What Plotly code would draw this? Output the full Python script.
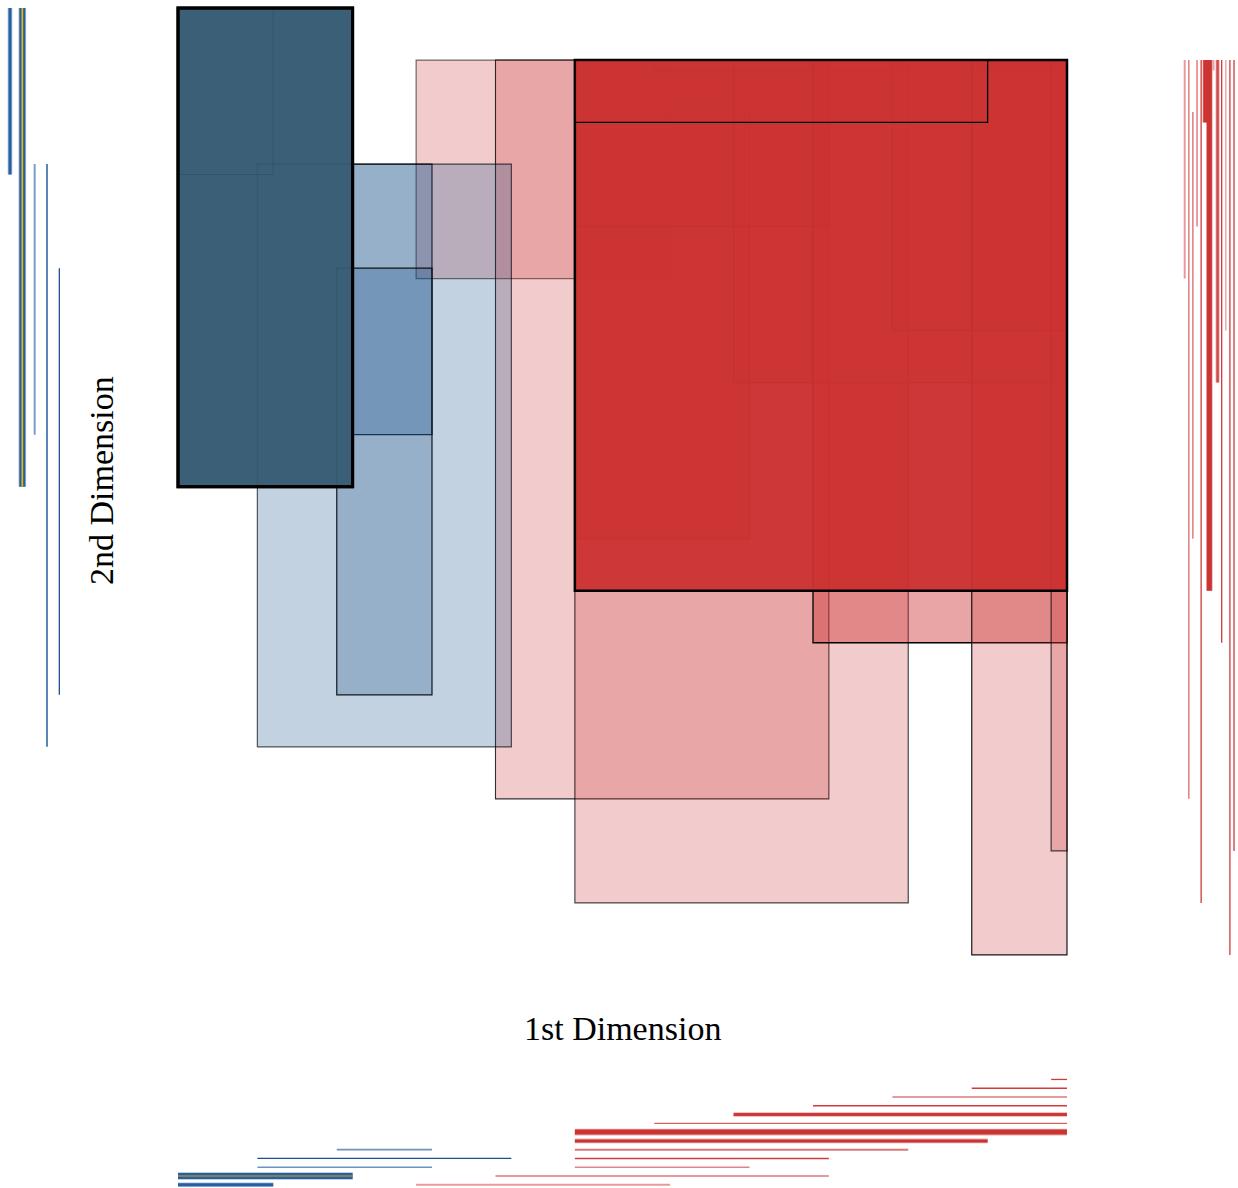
import plotly.graph_objects as go

# Item index ranges covered by each box along the two dimensions
BLUE_X_START = [0, 0, 1, 1, 2]
BLUE_X_END = [1, 2, 3, 4, 3]
BLUE_Y_START = [0, 0, 3, 3, 5]
BLUE_Y_END = [3, 9, 8, 14, 13]

RED_X_START = [3, 4, 5, 5, 5, 5, 5, 6, 7, 8, 9, 10, 11]
RED_X_END = [6, 8, 7, 8, 9, 10, 11, 11, 11, 11, 11, 11, 11]
RED_Y_START = [1, 1, 2, 1, 1, 1, 1, 1, 1, 1, 1, 1, 1]
RED_Y_END = [5, 15, 10, 4, 17, 2, 11, 1, 7, 12, 6, 18, 16]

X_TITLE = "1st Dimension"
Y_TITLE = "2nd Dimension"

# ---- styling ----
CELL = 0.2  # drawn width of a single item cell
W, H = 1238, 1188

BLUE_FILL = ["rgba(15,75,135,0.25)", "rgb(58,95,119)", "rgba(15,75,135,0.25)",
             "rgba(15,75,135,0.25)", "rgba(15,75,135,0.25)"]
BLUE_EDGE = [("rgba(30,50,60,0.6)", 1.2), ("black", 3.0), ("rgba(0,0,0,0.85)", 1.2),
             ("rgba(0,0,0,0.6)", 1.2), ("rgba(0,0,0,0.85)", 1.2)]
BLUE_ORDER = [0, 2, 3, 4, 1]
# boxes whose outlines stay faintly visible through the dark box
BLUE_GHOST = [0, 3, 4]
GHOST_EDGE = ("rgba(20,40,50,0.16)", 1.0)

RED_FILL = ["rgba(204,51,51,0.25)"] * 13
RED_FILL[9] = "rgba(204,51,51,0.44)"
RED_FILL[6] = "rgba(203,48,48,0.95)"
RED_EDGE = [("rgba(0,0,0,0.55)", 1.2), ("rgba(0,0,0,0.8)", 1.1), ("rgba(0,0,0,0.7)", 1.0),
            ("rgba(0,0,0,0.7)", 1.0), ("rgba(0,0,0,0.7)", 1.2), ("black", 1.3),
            ("black", 2.5), ("rgba(0,0,0,0.7)", 1.0), ("rgba(0,0,0,0.7)", 1.0),
            ("black", 1.3), ("rgba(0,0,0,0.7)", 1.0), ("rgba(0,0,0,0.9)", 1.2),
            ("rgba(0,0,0,0.7)", 1.2)]
RED_ORDER = [0, 1, 2, 3, 4, 7, 8, 9, 10, 11, 12, 6, 5]

# margin strip styles: (colour, width, halo)
LEFT_STYLE = [("#2560a3", 3.0, True), ("#2560a3", 6.0, True), ("#7c9ec8", 2.0, False),
              ("#5a84b6", 2.0, False), ("#1e4f8e", 1.3, False)]
BOTTOM_BLUE_STYLE = [("#2560a3", 3.0, True), ("#2560a3", 6.0, True), ("#6f92be", 1.7, False),
                     ("#1e4f8e", 1.3, False), ("#6f92be", 1.7, False)]
RIGHT_STYLE = [("#e89a9a", 2.0, False), ("#e07f7f", 1.5, False), ("#cf3a3a", 1.0, False),
               ("#cf3a3a", 1.0, False), ("#cf3a3a", 1.3, False), ("#cc3333", 4.0, True),
               ("#cc3333", 5.0, True), ("#eaa0a0", 2.0, False), ("#d44a4a", 2.5, True),
               ("#cf3a3a", 1.3, False), ("#eb9e9e", 1.3, False), ("#cf3a3a", 1.3, False),
               ("#cf3a3a", 1.3, False)]
BOTTOM_RED_STYLE = [("#e89a9a", 2.0, False), ("#e89a9a", 2.0, False), ("#e08585", 1.5, False),
                    ("#d03c3c", 1.5, False), ("#dc7676", 2.0, False), ("#cc3333", 3.0, True),
                    ("#cc3333", 5.0, True), ("#d03c3c", 1.0, False), ("#cf3838", 3.0, True),
                    ("#d03c3c", 1.5, False), ("#e89a9a", 2.0, False), ("#d03c3c", 1.5, False),
                    ("#d03c3c", 1.3, False)]
GOLD_LEFT = ("#f0b400", 1.7)
GOLD_BOTTOM = ("#a08a38", 1.4)

# pixel geometry of the panels
MX0, MXS = 178.0, 79.375      # main x: px = MX0 + MXS * u
MY0, MYS = 8.0, 52.03         # main y: px = MY0 + MYS * v (downwards)
LX0, LXS = 10.0, 12.33        # left strip
RX0, RXS = 1184.7, 4.11       # right strip
BY0, BYS = 1184.8, 8.78       # bottom strip (upwards)


def px_range(p0, p1, origin, scale):
    return [(p0 - origin) / scale, (p1 - origin) / scale]


fig = go.Figure()
shapes = []


def add_box(x0, x1, y0, y1, fill, edge):
    shapes.append(dict(type="rect", xref="x", yref="y", x0=x0, x1=x1 + CELL,
                       y0=y0, y1=y1 + CELL, fillcolor=fill,
                       line=dict(color=edge[0], width=edge[1]), layer="above"))


for i in RED_ORDER:
    add_box(RED_X_START[i], RED_X_END[i], RED_Y_START[i], RED_Y_END[i], RED_FILL[i], RED_EDGE[i])
for i in BLUE_ORDER:
    add_box(BLUE_X_START[i], BLUE_X_END[i], BLUE_Y_START[i], BLUE_Y_END[i], BLUE_FILL[i], BLUE_EDGE[i])
for i in BLUE_GHOST:
    add_box(BLUE_X_START[i], BLUE_X_END[i], BLUE_Y_START[i], BLUE_Y_END[i], "rgba(0,0,0,0)", GHOST_EDGE)
# thick outline of the dark box stays on top
add_box(BLUE_X_START[1], BLUE_X_END[1], BLUE_Y_START[1], BLUE_Y_END[1], "rgba(0,0,0,0)", BLUE_EDGE[1])


def seg(xs, ys, xaxis, yaxis, color, width, halo=False):
    if halo:
        fig.add_trace(go.Scatter(x=xs, y=ys, xaxis=xaxis, yaxis=yaxis, mode="lines",
                                 line=dict(color=color, width=width + 1.6), opacity=0.4,
                                 hoverinfo="skip", showlegend=False))
    fig.add_trace(go.Scatter(x=xs, y=ys, xaxis=xaxis, yaxis=yaxis, mode="lines",
                             line=dict(color=color, width=width),
                             hoverinfo="skip", showlegend=False))


# left strip: vertical extent of each blue box
for i in range(len(BLUE_Y_START)):
    c, w, h = LEFT_STYLE[i]
    ys = [BLUE_Y_START[i], BLUE_Y_END[i] + CELL]
    seg([i, i], ys, "x3", "y", c, w, h)
    if i == 1:
        seg([i, i], ys, "x3", "y", GOLD_LEFT[0], GOLD_LEFT[1])

# right strip: vertical extent of each red box
for i in range(len(RED_Y_START)):
    c, w, h = RIGHT_STYLE[i]
    seg([i, i], [RED_Y_START[i], RED_Y_END[i] + CELL], "x4", "y", c, w, h)

# bottom strip: horizontal extent of every box
for i in range(len(BLUE_X_START)):
    c, w, h = BOTTOM_BLUE_STYLE[i]
    xs = [BLUE_X_START[i], BLUE_X_END[i] + CELL]
    seg(xs, [i, i], "x", "y2", c, w, h)
    if i == 1:
        seg(xs, [i, i], "x", "y2", GOLD_BOTTOM[0], GOLD_BOTTOM[1])
for i in range(len(RED_X_START)):
    c, w, h = BOTTOM_RED_STYLE[i]
    seg([RED_X_START[i], RED_X_END[i] + CELL], [i, i], "x", "y2", c, w, h)

hidden = dict(visible=False, showgrid=False, zeroline=False, fixedrange=True)

main_x = (168, 1077)
main_y = (0, 965)
fig.update_layout(
    width=W, height=H,
    margin=dict(l=0, r=0, t=0, b=0),
    paper_bgcolor="white", plot_bgcolor="rgba(0,0,0,0)",
    showlegend=False,
    shapes=shapes,
    xaxis=dict(domain=[main_x[0] / W, main_x[1] / W],
               range=px_range(main_x[0], main_x[1], MX0, MXS), anchor="y", **hidden),
    yaxis=dict(domain=[1 - main_y[1] / H, 1 - main_y[0] / H],
               range=px_range(main_y[1], main_y[0], MY0, MYS), anchor="x", **hidden),
    xaxis3=dict(domain=[0, 72 / W], range=px_range(0, 72, LX0, LXS), anchor="y", **hidden),
    xaxis4=dict(domain=[1172 / W, 1], range=px_range(1172, W, RX0, RXS), anchor="y", **hidden),
    yaxis2=dict(domain=[0, (H - 1066) / H],
                range=[(BY0 - H) / BYS, (BY0 - 1066) / BYS], anchor="x", **hidden),
    annotations=[
        dict(text=X_TITLE, xref="paper", yref="paper", x=622.5 / W, y=1 - 1028 / H,
             xanchor="center", yanchor="middle", showarrow=False,
             font=dict(family="Liberation Serif", size=34, color="black")),
        dict(text=Y_TITLE, xref="paper", yref="paper", x=102 / W, y=1 - 481 / H,
             xanchor="center", yanchor="middle", showarrow=False, textangle=-90,
             font=dict(family="Liberation Serif", size=34, color="black")),
    ],
)

fig.write_html("out.html")
